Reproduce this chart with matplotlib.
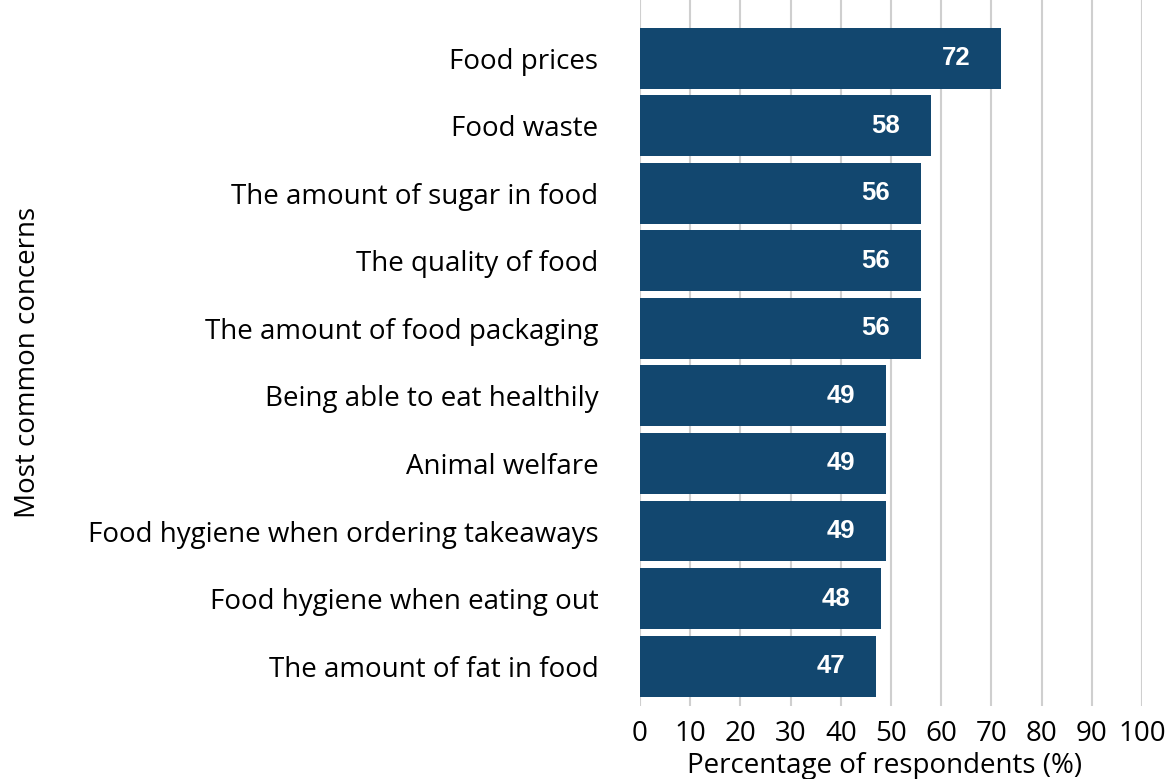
import numpy as np
import matplotlib
matplotlib.use("Agg")
import matplotlib.pyplot as plt

categories = [
    "Food prices",
    "Food waste",
    "The amount of sugar in food",
    "The quality of food",
    "The amount of food packaging",
    "Being able to eat healthily",
    "Animal welfare",
    "Food hygiene when ordering takeaways",
    "Food hygiene when eating out",
    "The amount of fat in food",
]
values = [72, 58, 56, 56, 56, 49, 49, 49, 48, 47]
xticks = [0, 10, 20, 30, 40, 50, 60, 70, 80, 90, 100]

bar_color = "#12476f"
grid_color = "#cfcfcf"

fig = plt.figure(figsize=(11.7, 7.79), dpi=100)
ax = fig.add_axes([640 / 1170, 1 - 706 / 779, (1142 - 640) / 1170, 706 / 779])

y = np.arange(len(categories))
ax.barh(y, values, height=0.9, color=bar_color, zorder=2)
for yi, v in zip(y, values):
    ax.text(v - 9, yi, str(v), ha="center", va="center", color="white",
            fontsize=18.5, fontweight="bold", family="Liberation Sans", zorder=3)

ax.set_xlim(0, 100)
ax.set_ylim(9.59, -0.86)
ax.set_xticks(xticks)
ax.set_xticklabels([str(t) for t in xticks], fontsize=20, family="Open Sans")
ax.set_yticks(y)
ax.set_yticklabels(categories, fontsize=20, family="Open Sans")
ax.tick_params(axis="y", length=0, pad=30)
ax.tick_params(axis="x", length=0, pad=10)
ax.grid(axis="x", color=grid_color, linewidth=1.5, zorder=1)
for s in ax.spines.values():
    s.set_visible(False)

fig.text(885 / 1170, 1 - 766 / 779, "Percentage of respondents (%)", ha="center",
         va="center", fontsize=20, family="Open Sans")
fig.text(28 / 1170, 1 - 362 / 779, "Most common concerns", rotation=90, ha="center",
         va="center", fontsize=20, family="Open Sans")

fig.savefig("out.png", dpi=100)
